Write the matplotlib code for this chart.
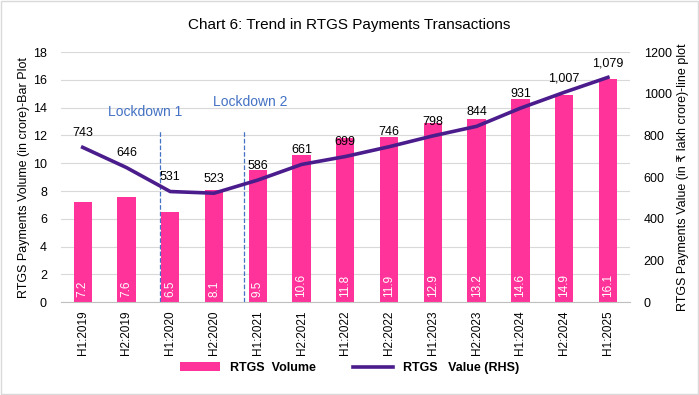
import numpy as np
import matplotlib.pyplot as plt

plt.rcParams['font.family'] = ['Liberation Sans', 'DejaVu Sans']

periods = ['H1:2019', 'H2:2019', 'H1:2020', 'H2:2020', 'H1:2021', 'H2:2021', 'H1:2022',
           'H2:2022', 'H1:2023', 'H2:2023', 'H1:2024', 'H2:2024', 'H1:2025']
volume = [7.2, 7.6, 6.5, 8.1, 9.5, 10.6, 11.8, 11.9, 12.9, 13.2, 14.6, 14.9, 16.1]
value = [743, 646, 531, 523, 586, 661, 699, 746, 798, 844, 931, 1007, 1079]

bar_color = '#FF3399'
line_color = '#4B1C8C'
note_color = '#4472C4'

fig = plt.figure(figsize=(6.99, 3.95), dpi=100)
ax = fig.add_axes([0.087, 0.235, 0.814, 0.633])
ax2 = ax.twinx()

x = np.arange(len(periods))
bars = ax.bar(x, volume, width=0.42, color=bar_color, label='RTGS  Volume', zorder=2)
for xi, v in zip(x, volume):
    ax.text(xi, 0.35, f'{v:.1f}', rotation=90, color='white', ha='center', va='bottom',
            fontsize=8.5, zorder=3)

ln, = ax2.plot(x, value, color=line_color, lw=2.6, label='RTGS   Value (RHS)', zorder=4)
for xi, v in zip(x, value):
    ax2.text(xi, v + 40, f'{v:,}', ha='center', va='bottom', fontsize=9, color='black')

ax.set_ylim(0, 18)
ax.set_yticks(range(0, 19, 2))
ax2.set_ylim(0, 1200)
ax2.set_yticks(range(0, 1201, 200))
ax.set_xlim(-0.5, len(periods) - 0.5)
ax.set_xticks(x)
ax.set_xticklabels(periods, rotation=90, fontsize=8.5)

ax.grid(axis='y', color='#D9D9D9', lw=0.8, zorder=0)
ax.set_axisbelow(True)
for a in (ax, ax2):
    for s in a.spines.values():
        s.set_visible(False)
    a.tick_params(length=0, labelsize=9)
ax.spines['bottom'].set_visible(True)
ax.spines['bottom'].set_color('#BFBFBF')
ax.tick_params(axis='x', pad=6, labelsize=8.5)
ax.tick_params(axis='y', pad=10)
ax2.tick_params(axis='y', pad=10)

# lockdown markers
ax.vlines([1.76, 3.68], 0, 12.4, colors=note_color, linestyles='--', lw=0.9, zorder=1)
ax.text(1.42, 13.7, 'Lockdown 1', color=note_color, ha='center', va='center', fontsize=10)
ax.text(3.82, 14.4, 'Lockdown 2', color=note_color, ha='center', va='center', fontsize=10)

ax.set_ylabel('RTGS Payments Volume (in crore)-Bar Plot', fontsize=9, labelpad=2)
ax2.set_ylabel('RTGS Payments Value (in ₹ lakh crore)-line plot', fontsize=9, labelpad=4)

fig.suptitle('Chart 6: Trend in RTGS Payments Transactions', y=0.955, fontsize=11)
fig.legend([bars, ln], ['RTGS  Volume', 'RTGS   Value (RHS)'], loc='center',
           bbox_to_anchor=(0.5, 0.068), ncol=2, frameon=False,
           handlelength=3.2, columnspacing=3, prop={'weight': 'bold', 'size': 9})

fig.patches.append(plt.Rectangle((0.002, 0.003), 0.996, 0.994, transform=fig.transFigure,
                                 fill=False, edgecolor='#D9D9D9', lw=1))
fig.savefig('out.png', dpi=100)
